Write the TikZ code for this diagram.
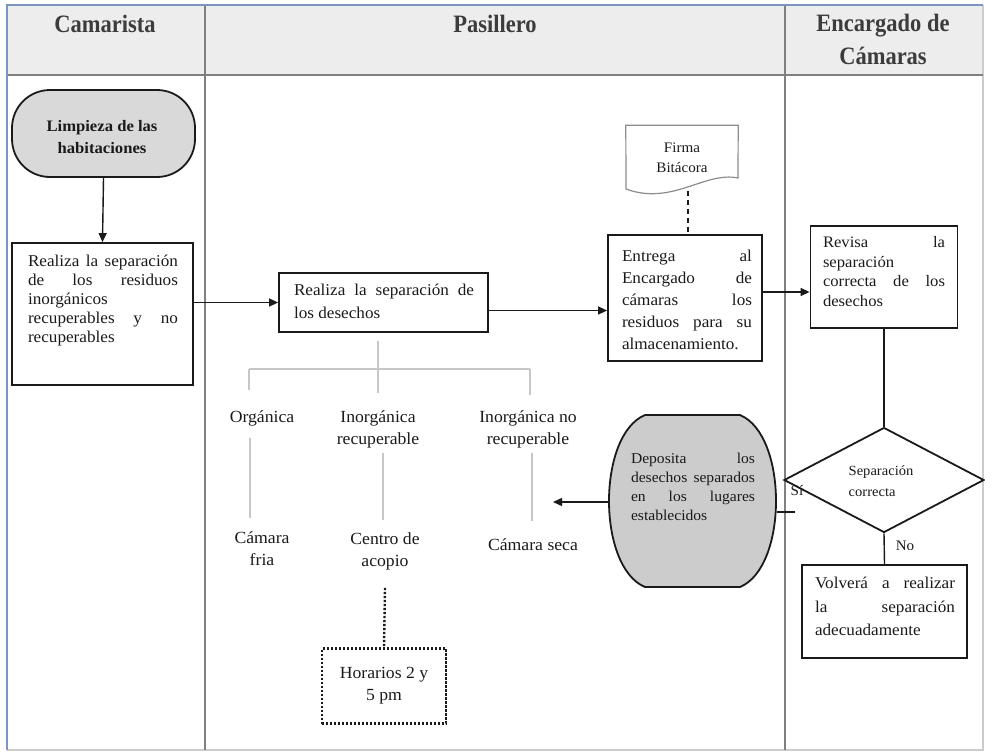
\documentclass[tikz,border=0pt]{standalone}
\usepackage{fontspec}
\setmainfont{Liberation Serif}[FakeStretch=1.04]
\newfontfamily\hdrfont{Liberation Serif}[FakeStretch=0.9]
\usetikzlibrary{arrows.meta,shapes.geometric}
\setlength{\parindent}{0pt}
\newcommand{\myfs}[2]{\fontsize{#1}{#2}\selectfont}
\definecolor{lanegray}{HTML}{808080}
\definecolor{frameblue}{HTML}{7C95C0}
\definecolor{ink}{HTML}{1A1A1A}
\begin{document}
\begin{tikzpicture}[x=1pt,y=-1pt,
  box/.style={draw=ink, line width=1.8pt, inner sep=0pt},
  txt/.style={inner sep=0pt, anchor=north, align=justify, text=ink},
  lbl/.style={inner sep=0pt, align=center, text=ink},
  hdr/.style={inner sep=0pt, align=center, text=ink!85, font=\hdrfont\bfseries\myfs{25}{33}},
  arr/.style={draw=ink, line width=1.4pt, -{Triangle[length=9pt,width=8pt]}},
  conn/.style={draw=ink, line width=1.4pt},
  tree/.style={draw=black!22, line width=1.8pt},
]
\useasboundingbox (0,0) rectangle (985,753);
% ---- table ----
\fill[black!7] (7,5) rectangle (983,75);
\draw[black!20, line width=1.2pt] (983,5) -- (983,750) -- (7,750);
\draw[lanegray, line width=2pt] (7,75) -- (983,75);
\draw[lanegray, line width=1.5pt] (205,5) -- (205,750);
\draw[lanegray, line width=1.5pt] (785,5) -- (785,750);
\draw[frameblue, line width=1.5pt] (7,750) -- (7,5) -- (983,5);
\node[hdr] (h1) at (105,24) {Camarista};
\node[hdr] (h2) at (495,24) {Pasillero};
\node[hdr] (h3) at (883,39) {Encargado de\\Cámaras};
% ---- Camarista ----
\node[box, fill=black!15, rounded corners=38pt, minimum width=183pt, minimum height=87pt] (limp) at (103.5,133.5) {};
\node[lbl, font=\bfseries\myfs{16}{21.5}] (limpt) at (102,137) {Limpieza de las\\habitaciones};
\node[box, minimum width=181pt, minimum height=142pt] (sep1) at (102.5,314) {};
\node[txt, text width=150pt, font=\myfs{16.5}{19}] (sep1t) at (103,255)
  {Realiza la separación\linebreak de los residuos\linebreak inorgánicos\newline recuperables y no\linebreak recuperables};
% ---- Pasillero ----
\node[box, minimum width=209pt, minimum height=59pt] (sep2) at (383.5,302.5) {};
\node[txt, text width=180pt, font=\myfs{16.5}{23}] (sep2t) at (384,284)
  {Realiza la separación de\linebreak los desechos};
\node[box, minimum width=154pt, minimum height=126pt] (ent) at (685,298) {};
\node[txt, text width=130pt, font=\myfs{16.5}{22}] (entt) at (687,250)
  {Entrega al\linebreak Encargado de\linebreak cámaras los\linebreak residuos para su\linebreak almacenamiento.};
% document shape
\node[inner sep=0pt, minimum width=112pt, minimum height=65pt, align=center, text=ink,
      font=\myfs{14.5}{20}] (firma) at (682,158) {Firma\\Bitácora};
\draw[black!45, line width=1.2pt] (firma.north west) -- (firma.north east) -- (738,178)
  .. controls (705,171) and (672,206) .. (626,189) -- cycle;
% deposit shape
\node[inner sep=0pt, minimum width=167pt, minimum height=172pt] (dep) at (691.5,501) {};
\draw[ink, fill=black!20, line width=1.8pt] (645,415) -- (740,415)
  .. controls (788,435) and (788,567) .. (740,587) -- (645,587)
  .. controls (597,567) and (597,435) .. (645,415) -- cycle;
\node[txt, text width=124pt, font=\myfs{15}{19}] (dept) at (693,453)
  {Deposita los\linebreak desechos separados\linebreak en los lugares\linebreak establecidos};
% tree labels
\node[lbl, font=\myfs{17}{22}] (org) at (262,418) {Orgánica};
\node[lbl, font=\myfs{17}{22}] (inr) at (378,429) {Inorgánica\\recuperable};
\node[lbl, font=\myfs{17}{22}] (inn) at (528,429.5) {Inorgánica no\\recuperable};
\node[lbl, font=\myfs{17}{22}] (camf) at (262,549) {Cámara\\fria};
\node[lbl, font=\myfs{17}{22}] (acop) at (385,551) {Centro de\\acopio};
\node[lbl, font=\myfs{17}{22}] (cams) at (533,545) {Cámara seca};
\node[draw=ink, line width=2.4pt, dash pattern=on 2.2pt off 1.8pt, minimum width=124pt, minimum height=75pt,
      align=center, text=ink, font=\myfs{17}{22}] (hor) at (384,686) {Horarios 2 y\\5 pm};
% tree lines
\coordinate (tj) at (378,369);
\coordinate (tl) at (249,369);
\coordinate (tr) at (530,369);
\coordinate (xa) at (250,0);
\coordinate (xb) at (383,0);
\coordinate (xc) at (532,0);
\coordinate (xd) at (688,0);
\draw[tree] ([yshift=-8pt]sep2.south -| tj) -- (378,393);
\draw[tree] (tl) -- (tr);
\draw[tree] (tl) -- ++(0,21);
\draw[tree] (tr) -- ++(0,26);
\draw[tree] ([yshift=-12pt]org.south -| xa) -- ([yshift=14pt]camf.north -| xa);
\draw[tree] ([yshift=-5pt]inr.south -| xb) -- ([yshift=12pt]acop.north -| xb);
\draw[tree] ([yshift=-5pt]inn.south -| xc) -- ([yshift=18pt]cams.north -| xc);
\draw[draw=ink, line width=2.4pt, dash pattern=on 2.2pt off 1.8pt] ([yshift=-18pt]acop.south) -- (hor.north);
% ---- Encargado ----
\node[box, minimum width=147pt, minimum height=102pt] (rev) at (884,277) {};
\node[txt, text width=122pt, font=\myfs{16}{19.7}] (revt) at (884,236)
  {Revisa la\linebreak separación\newline correcta de los\linebreak desechos};
\node[draw=ink, line width=1.8pt, diamond, minimum width=200pt, minimum height=105pt, inner sep=0pt] (dia) at (884,480) {};
\node[inner sep=0pt, align=left, text=ink, font=\myfs{14}{21}] (diat) at (881,481) {Separación\\correcta};
\node[box, minimum width=165pt, minimum height=93pt] (vol) at (884.5,611.5) {};
\node[txt, text width=140pt, font=\myfs{16.5}{23.5}] (volt) at (885,577)
  {Volverá a realizar\linebreak la separación\linebreak adecuadamente};
\node[lbl, font=\myfs{14.5}{16}] (si) at (797,491) {Sí};
\node[lbl, font=\myfs{14.5}{16}] (no) at (905,546) {No};
% ---- connectors ----
\draw[arr] (limp.south) -- (sep1.north);
\draw[arr] (sep1.east |- sep2.west) -- (sep2.west);
\draw[arr] ([yshift=-8pt]sep2.east) -- ([yshift=-8pt]sep2.east -| ent.west);
\draw[arr] ([yshift=6pt]ent.east) -- ([yshift=6pt]ent.east -| rev.west);
\draw[conn, dash pattern=on 5pt off 4pt] (firma.south -| xd) -- (ent.north -| xd);
\draw[conn] (rev.south) -- (dia.north);
\draw[conn] (dia.south) -- (vol.north);
\coordinate (cs) at (553,502);
\draw[arr] (dep.west |- cs) -- (cs);
\coordinate (s1) at (777,512);
\coordinate (s2) at (795,512);
\draw[conn] (s1) -- (s2);
\end{tikzpicture}
\end{document}
